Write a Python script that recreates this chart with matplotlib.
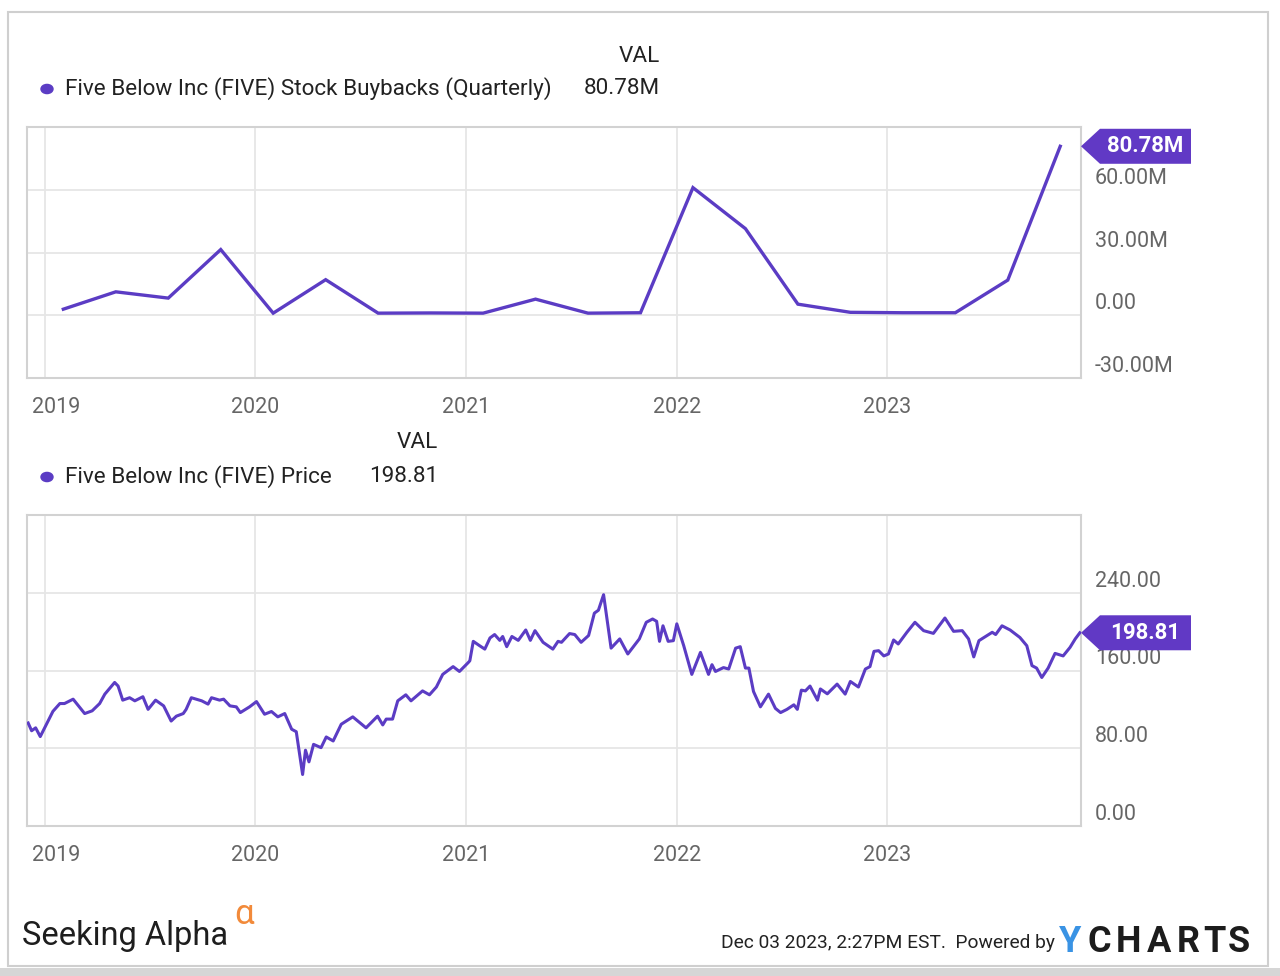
import pandas as pd
import matplotlib
matplotlib.use("Agg")
import matplotlib.pyplot as plt
import matplotlib.dates as mdates
from matplotlib.patches import Polygon, Rectangle, Circle
from matplotlib.transforms import blended_transform_factory, ScaledTranslation

plt.rcParams['font.family'] = ['Roboto', 'DejaVu Sans']

# Quarterly stock buybacks (in millions)
buyback_dates = ['2019-02-02', '2019-05-04', '2019-08-03', '2019-11-02',
                 '2020-02-01', '2020-05-02', '2020-08-01', '2020-10-31',
                 '2021-01-30', '2021-05-01', '2021-07-31', '2021-10-30',
                 '2022-01-29', '2022-04-30', '2022-07-30', '2022-10-29',
                 '2023-01-28', '2023-04-29', '2023-07-29', '2023-10-28']
buyback_values = [2.9, 11.2, 8.2, 31.4,
                  1.0, 17.0, 1.0, 1.1,
                  1.0, 7.7, 1.0, 1.2,
                  61.0, 41.4, 5.3, 1.4,
                  1.2, 1.2, 16.8, 80.78]

# Share price
price_dates = ['2018-12-03', '2018-12-09', '2018-12-16', '2018-12-24', '2019-01-04', '2019-01-15',
               '2019-01-27', '2019-02-04', '2019-02-19', '2019-03-11', '2019-03-24', '2019-04-06',
               '2019-04-15', '2019-05-02', '2019-05-08', '2019-05-16', '2019-05-28', '2019-06-06',
               '2019-06-20', '2019-06-29', '2019-07-12', '2019-07-26', '2019-08-08', '2019-08-17',
               '2019-08-29', '2019-09-03', '2019-09-12', '2019-09-30', '2019-10-11', '2019-10-17',
               '2019-10-31', '2019-11-07', '2019-11-18', '2019-11-29', '2019-12-06', '2019-12-22',
               '2020-01-03', '2020-01-17', '2020-01-29', '2020-02-09', '2020-02-21', '2020-03-04',
               '2020-03-12', '2020-03-23', '2020-03-28', '2020-04-03', '2020-04-11', '2020-04-24',
               '2020-05-03', '2020-05-15', '2020-05-29', '2020-06-18', '2020-07-11', '2020-07-31',
               '2020-08-09', '2020-08-15', '2020-08-26', '2020-09-04', '2020-09-18', '2020-09-27',
               '2020-10-17', '2020-10-29', '2020-11-10', '2020-11-21', '2020-12-09', '2020-12-20',
               '2021-01-04', '2021-01-07', '2021-01-13', '2021-01-24', '2021-02-02', '2021-02-11',
               '2021-02-19', '2021-02-28', '2021-03-05', '2021-03-12', '2021-03-21', '2021-04-01',
               '2021-04-14', '2021-04-22', '2021-04-30', '2021-05-14', '2021-05-31', '2021-06-09',
               '2021-06-15', '2021-06-29', '2021-07-08', '2021-07-19', '2021-08-01', '2021-08-11',
               '2021-08-18', '2021-08-27', '2021-09-09', '2021-09-24', '2021-10-08', '2021-10-28',
               '2021-11-09', '2021-11-20', '2021-11-27', '2021-12-02', '2021-12-08', '2021-12-17',
               '2021-12-26', '2022-01-01', '2022-01-13', '2022-01-27', '2022-02-11', '2022-02-25',
               '2022-03-03', '2022-03-09', '2022-03-23', '2022-04-01', '2022-04-13', '2022-04-21',
               '2022-04-30', '2022-05-06', '2022-05-14', '2022-05-26', '2022-06-09', '2022-06-21',
               '2022-06-30', '2022-07-11', '2022-07-23', '2022-07-29', '2022-08-05', '2022-08-12',
               '2022-08-20', '2022-09-02', '2022-09-07', '2022-09-19', '2022-10-06', '2022-10-20',
               '2022-10-29', '2022-11-12', '2022-11-24', '2022-12-02', '2022-12-09', '2022-12-17',
               '2022-12-26', '2023-01-03', '2023-01-12', '2023-01-20', '2023-02-04', '2023-02-18',
               '2023-03-05', '2023-03-22', '2023-04-11', '2023-04-26', '2023-05-11', '2023-05-22',
               '2023-05-31', '2023-06-09', '2023-06-23', '2023-07-02', '2023-07-08', '2023-07-19',
               '2023-08-02', '2023-08-19', '2023-08-31', '2023-09-09', '2023-09-17', '2023-09-26',
               '2023-10-07', '2023-10-19', '2023-11-02', '2023-11-14', '2023-11-23', '2023-12-01']
price_values = [106, 98, 101, 92, 105, 118,
                126, 126, 130.5, 115.7, 118.5, 126,
                135.7, 147.7, 144, 129.5, 132, 128.8,
                133, 120, 129.5, 123.6, 108, 113,
                115.7, 120, 132, 128.8, 125.4, 132,
                129.5, 130.5, 123.6, 122.6, 116.7, 122.6,
                128, 115, 117.8, 112.3, 115.7, 99.6,
                97, 53, 78, 66, 84, 80.6,
                91.6, 87.5, 104.7, 112.3, 101, 113,
                104, 110, 110, 128.8, 135, 128.8,
                139, 135, 143, 156, 164, 159,
                168, 170, 190, 185.5, 182, 193.5,
                197, 191, 195, 184.5, 195, 191,
                201.7, 191, 201, 189, 182, 190,
                189, 198, 197, 189, 196, 219,
                222, 238, 183, 192.5, 177, 192.5,
                209.6, 213, 210.6, 190, 206, 190,
                190.7, 208, 185.5, 156, 178.6, 156,
                166, 159, 163, 161.5, 183, 184.5,
                162.5, 162.5, 138.4, 122.6, 135.7, 121,
                116.7, 120, 124.7, 120, 139.8, 139,
                144, 129.5, 141, 136, 146, 135.7,
                148.7, 143, 161.5, 164, 179.7, 180.4,
                175, 177, 191.4, 187.3, 199.3, 209.6,
                201, 198.2, 214, 200.3, 201, 192.5,
                174, 190.7, 195.9, 199.3, 197, 206,
                201.7, 194, 185.5, 165, 162.5, 152.8,
                162.5, 177.6, 175, 183.8, 192.5, 198.81]

year_ticks = ['2019', '2020', '2021', '2022', '2023']
buyback_yticks = [-30, 0, 30, 60]
buyback_ylabels = ['-30.00M', '0.00', '30.00M', '60.00M']
price_yticks = [0, 80, 160, 240]
price_ylabels = ['0.00', '80.00', '160.00', '240.00']

PURPLE = '#5b3cc4'
TAG = '#6139c5'
TXT = '#222222'
W, H = 1280, 976


def fx(x):
    return x / W


def fy(y):
    return 1 - y / H


fig = plt.figure(figsize=(W / 100, H / 100), dpi=100)
fig.patch.set_facecolor('white')

ax1 = fig.add_axes([fx(27), fy(378), (1081 - 27) / W, (378 - 127) / H])
ax2 = fig.add_axes([fx(27), fy(826), (1081 - 27) / W, (826 - 515) / H])

xmin, xmax = pd.Timestamp('2018-12-01'), pd.Timestamp('2023-12-03')
year_dates = pd.to_datetime([y + '-01-01' for y in year_ticks])
year_nums = mdates.date2num(year_dates)


def style_axes(ax, ylim, yticks, ylabels):
    ax.set_xlim(xmin, xmax)
    ax.set_ylim(*ylim)
    ax.set_xticks(year_dates)
    ax.set_yticks(yticks)
    ax.tick_params(length=0, labelbottom=False, labelleft=False)
    ax.grid(True, color='#e6e6e6', lw=1.3)
    ax.set_axisbelow(True)
    for s in ax.spines.values():
        s.set_color('#d2d2d2')
        s.set_linewidth(1.5)
    ytrans = blended_transform_factory(ax.transAxes, ax.transData)
    for v, lab in zip(yticks, ylabels):
        ax.annotate(lab, xy=(1, v), xycoords=ytrans, xytext=(14, 6), textcoords='offset pixels',
                    ha='left', va='baseline', fontsize=15.5, color='#666666', annotation_clip=False)
    xtrans = blended_transform_factory(ax.transData, ax.transAxes)
    for i, (d, lab) in enumerate(zip(year_nums, year_ticks)):
        dx = 11 if i == 0 else 0
        ax.annotate(lab, xy=(d, 0), xycoords=xtrans, xytext=(dx, -35), textcoords='offset pixels',
                    ha='center', va='baseline', fontsize=15.5, color='#666666', annotation_clip=False)


def value_tag(ax, value, label):
    anchor = blended_transform_factory(ax.transAxes, ax.transData)
    trans = fig.dpi_scale_trans + ScaledTranslation(1.0, value, anchor)
    pts = [(0, 0), (19, 17.5), (110, 17.5), (110, -17.5), (19, -17.5)]
    poly = Polygon([(a / 100, b / 100) for a, b in pts], closed=True, transform=trans,
                   facecolor=TAG, edgecolor='none', clip_on=False, zorder=5)
    ax.add_patch(poly)
    ax.annotate(label, xy=(1, value), xycoords=anchor, xytext=(64, 0), textcoords='offset pixels',
                ha='center', va='center', color='white', fontsize=16, fontweight='bold',
                annotation_clip=False, zorder=6)


# Top chart: buybacks
b_dates = pd.to_datetime(buyback_dates)
ax1.plot(b_dates, buyback_values, color=PURPLE, lw=2.4, solid_joinstyle='miter', zorder=3)
style_axes(ax1, (-30, 90), buyback_yticks, buyback_ylabels)
value_tag(ax1, buyback_values[-1], f"{buyback_values[-1]:.2f}M")

# Bottom chart: price
p_dates = pd.to_datetime(price_dates)
ax2.plot(p_dates, price_values, color=PURPLE, lw=2.2, zorder=3)
style_axes(ax2, (0, 320), price_yticks, price_ylabels)
value_tag(ax2, price_values[-1], f"{price_values[-1]:.2f}")

# Legends
LEG = 16.2
fig.text(fx(660), fy(56), 'VAL', ha='right', va='center', fontsize=LEG, color=TXT)
fig.patches.append(Circle((fx(47), fy(89)), 6 / W, transform=fig.transFigure, color=PURPLE))
fig.text(fx(65), fy(89), 'Five Below Inc (FIVE) Stock Buybacks (Quarterly)', ha='left', va='center',
         fontsize=LEG, color=TXT)
fig.text(fx(660), fy(89), f"{buyback_values[-1]:.2f}M", ha='right', va='center', fontsize=LEG, color=TXT)

fig.text(fx(438), fy(443), 'VAL', ha='right', va='center', fontsize=LEG, color=TXT)
fig.patches.append(Circle((fx(47), fy(477)), 6 / W, transform=fig.transFigure, color=PURPLE))
fig.text(fx(65), fy(477), 'Five Below Inc (FIVE) Price', ha='left', va='center', fontsize=LEG, color=TXT)
fig.text(fx(438), fy(477), f"{price_values[-1]:.2f}", ha='right', va='center', fontsize=LEG, color=TXT)

# Footer
fig.text(fx(22), fy(945), 'Seeking Alpha', ha='left', va='baseline', fontsize=23.5, color='#1e1e1e')
fig.text(fx(234), fy(924), 'α', ha='left', va='baseline', fontsize=25, color='#f28a3a')
fig.text(fx(1055), fy(948), 'Dec 03 2023, 2:27PM EST.  Powered by', ha='right', va='baseline',
         fontsize=13.8, color=TXT)
fig.text(fx(1070), fy(952), 'Y', ha='center', va='baseline', fontsize=26, fontweight='bold', color='#3a93e4')
for ch, cx in zip('CHARTS', [1099, 1129, 1159, 1188, 1214, 1239]):
    fig.text(fx(cx), fy(952), ch, ha='center', va='baseline', fontsize=26, fontweight='bold', color='#1c1c1c')

# Outer frame
fig.patches.append(Rectangle((fx(8), fy(966)), (1268 - 8) / W, (966 - 12) / H, transform=fig.transFigure,
                             fill=False, edgecolor='#cfcfcf', lw=1.5))
fig.patches.append(Rectangle((0, 0), 1, 8 / H, transform=fig.transFigure, facecolor='#d6d6d6', edgecolor='none'))

fig.savefig('out.png', dpi=100)
